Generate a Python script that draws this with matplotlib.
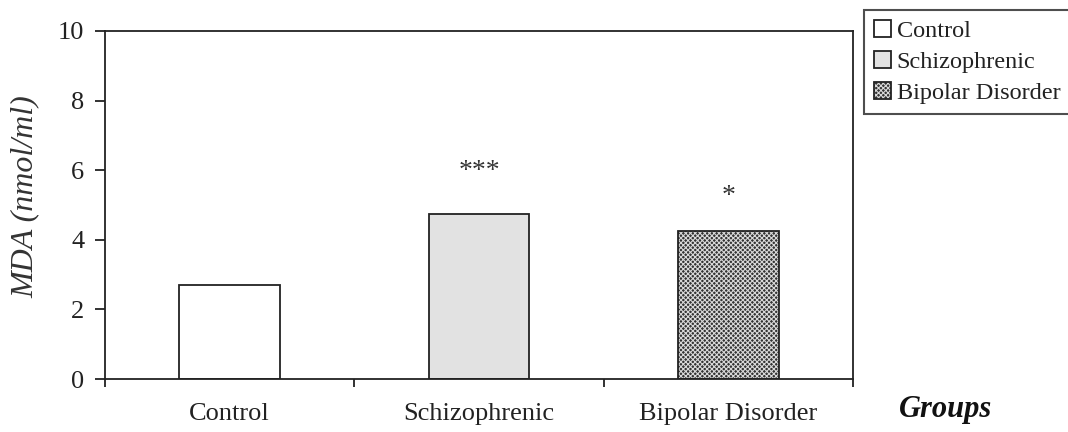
import matplotlib
matplotlib.use("Agg")
import matplotlib.pyplot as plt
from matplotlib.patches import Patch
from matplotlib.legend_handler import HandlerTuple

categories = ["Control", "Schizophrenic", "Bipolar Disorder"]
values = [2.7, 4.75, 4.25]
significance = ["", "***", "*"]
yticks = [0, 2, 4, 6, 8, 10]

plt.rcParams['font.family'] = ['Liberation Serif', 'DejaVu Serif']
plt.rcParams['hatch.linewidth'] = 0.8
plt.rcParams['hatch.color'] = '#d8d8d8'

fig = plt.figure(figsize=(10.68, 4.32), dpi=100)
ax = fig.add_axes([105/1068, 1-379/432, (853-105)/1068, (379-31)/432])

x = list(range(len(categories)))
w = 0.405
edge = '#222222'
lw = 1.3
dark = '#333333'

b0 = ax.bar(x[0], values[0], w, facecolor='white', edgecolor=edge, linewidth=lw)
b1 = ax.bar(x[1], values[1], w, facecolor='#e2e2e2', edgecolor=edge, linewidth=lw)
b2h = ax.bar(x[2], values[2], w, facecolor=dark, edgecolor=None, linewidth=0,
             hatch='xxxxxxx')
b2o = ax.bar(x[2], values[2], w, fill=False, edgecolor=edge, linewidth=lw)

offsets = [0, 1.2, 1.0]
for i, s in enumerate(significance):
    if s:
        ax.text(x[i], values[i] + offsets[i], s, ha='center', va='center',
                fontsize=20, color='#333333')

ax.set_xlim(-0.5, 2.5)
ax.set_ylim(0, 10)
ax.set_yticks(yticks)
ax.set_yticklabels([str(t) for t in yticks])
ax.set_xticks(x)
ax.set_xticklabels(categories)
ax.set_xticks([-0.5, 0.5, 1.5, 2.5], minor=True)
ax.tick_params(axis='x', which='major', length=0, pad=17, labelsize=19, colors='#222222')
ax.tick_params(axis='x', which='minor', length=6, width=1.3, direction='out', color='#222222')
ax.tick_params(axis='y', which='major', length=7, width=1.3, direction='out', pad=8,
               labelsize=19, colors='#222222')
for sp in ax.spines.values():
    sp.set_linewidth(1.3)
    sp.set_color('#222222')

fig.text(25/1068, 1-197/432, "MDA (nmol/ml)", rotation=90, ha='center', va='center',
         fontsize=23, style='italic', color='#333333')
fig.text(946/1068, 1-409/432, "Groups", ha='center', va='center',
         fontsize=22, style='italic', weight='bold', color='#111111')

h0 = Patch(facecolor='white', edgecolor=edge, linewidth=1.3)
h1 = Patch(facecolor='#e2e2e2', edgecolor=edge, linewidth=1.3)
h2a = Patch(facecolor=dark, edgecolor=None, linewidth=0, hatch='xxxxxxx')
h2b = Patch(fill=False, edgecolor=edge, linewidth=1.3)
leg = fig.legend([h0, h1, (h2a, h2b)], categories,
                 loc='upper left', bbox_to_anchor=(864/1068, 1-10/432),
                 fontsize=17.5, handlelength=0.7, handleheight=0.7, handletextpad=0.25,
                 labelspacing=0.38, borderpad=0.4, borderaxespad=0,
                 fancybox=False, frameon=True,
                 handler_map={tuple: HandlerTuple(ndivide=1, pad=0)})
leg.get_frame().set_edgecolor('#222222')
leg.get_frame().set_linewidth(1.5)
for t in leg.get_texts():
    t.set_color('#222222')

fig.savefig("out.png", dpi=100)
